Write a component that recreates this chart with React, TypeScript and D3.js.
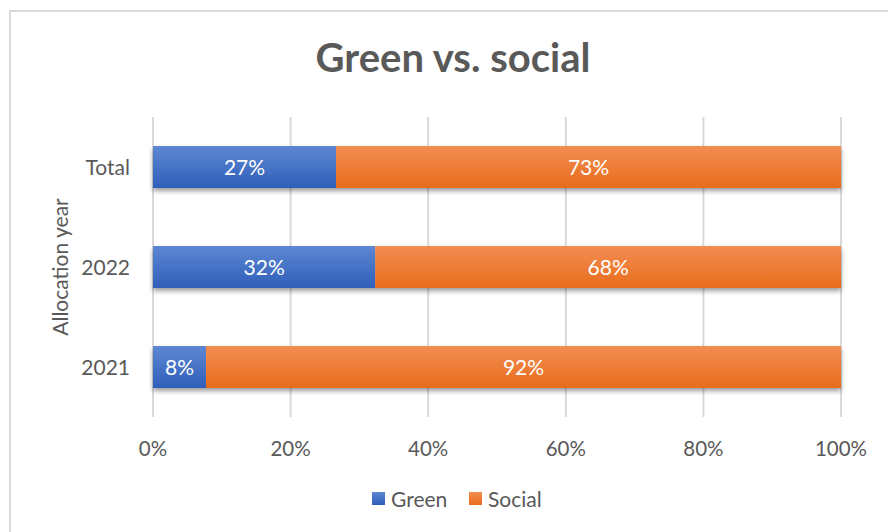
import React from "react";
import * as d3 from "d3";

const categories = ["Total", "2022", "2021"];
const greenValues = [26.6, 32.3, 7.7];
const socialValues = [73.4, 67.7, 92.3];
const xTicks = [0, 20, 40, 60, 80, 100];
const seriesNames = ["Green", "Social"];

const W = 888, H = 532;
const margin = { left: 153, right: 47, top: 117, bottom: 115 };
const FONT = "Lato, 'Open Sans', sans-serif";

export default function App() {
  const x = d3.scaleLinear().domain([0, 100]).range([margin.left, W - margin.right]);
  const y = d3.scaleBand().domain(categories).range([margin.top, H - margin.bottom]).paddingInner(0.58).paddingOuter(0.29);
  const bw = y.bandwidth();
  return (
    <svg width={W} height={H} style={{ position: "absolute", left: 0, top: 0 }}>
      <defs>
        <linearGradient id="gBlue" x1="0" y1="0" x2="0" y2="1">
          <stop offset="0" stopColor="#5d87d2" />
          <stop offset="1" stopColor="#2f5fba" />
        </linearGradient>
        <linearGradient id="gOrange" x1="0" y1="0" x2="0" y2="1">
          <stop offset="0" stopColor="#f38d52" />
          <stop offset="1" stopColor="#e86c1c" />
        </linearGradient>
        <filter id="shadow" x="-5%" y="-20%" width="110%" height="160%">
          <feGaussianBlur in="SourceAlpha" stdDeviation="2.5" />
          <feOffset dx="0" dy="3" result="b" />
          <feComponentTransfer><feFuncA type="linear" slope="0.4" /></feComponentTransfer>
          <feMerge><feMergeNode /><feMergeNode in="SourceGraphic" /></feMerge>
        </filter>
      </defs>
      <rect x={0} y={0} width={W} height={H} fill="#fff" />
      <rect x={10} y={11} width={W + 10} height={H + 10} fill="none" stroke="#d9d9d9" strokeWidth={2} />
      <text x={453} y={72} textAnchor="middle" fontFamily={FONT} fontWeight="bold" fontSize={40} fill="#595959">Green vs. social</text>
      {xTicks.map(t => (
        <line key={t} x1={x(t)} x2={x(t)} y1={margin.top} y2={H - margin.bottom} stroke="#d9d9d9" strokeWidth={2} />
      ))}
      {xTicks.map(t => (
        <text key={"l" + t} x={x(t)} y={456} textAnchor="middle" fontFamily={FONT} fontSize={20.5} fill="#595959">{t}%</text>
      ))}
      {categories.map((c, i) => {
        const y0 = y(c)!;
        const g = greenValues[i], s = socialValues[i];
        return (
          <g key={c}>
            <g filter="url(#shadow)">
              <rect x={x(0)} y={y0} width={x(g) - x(0)} height={bw} fill="url(#gBlue)" />
              <rect x={x(g)} y={y0} width={x(g + s) - x(g)} height={bw} fill="url(#gOrange)" />
            </g>
            <text x={(x(0) + x(g)) / 2} y={y0 + bw / 2 + 7.5} textAnchor="middle" fontFamily={FONT} fontSize={21} fill="#fff">{Math.round(g)}%</text>
            <text x={(x(g) + x(g + s)) / 2} y={y0 + bw / 2 + 7.5} textAnchor="middle" fontFamily={FONT} fontSize={21} fill="#fff">{Math.round(s)}%</text>
            <text x={130} y={y0 + bw / 2 + 7.5} textAnchor="end" fontFamily={FONT} fontSize={21} fill="#595959">{c}</text>
          </g>
        );
      })}
      <text transform={`translate(68, ${(margin.top + H - margin.bottom) / 2}) rotate(-90)`} textAnchor="middle" fontFamily={FONT} fontSize={21} fill="#595959">Allocation year</text>
      <g>
        <rect x={372} y={492} width={13} height={13} fill="url(#gBlue)" />
        <text x={391} y={507} fontFamily={FONT} fontSize={21} fill="#595959">{seriesNames[0]}</text>
        <rect x={469} y={492} width={13} height={13} fill="url(#gOrange)" />
        <text x={488} y={507} fontFamily={FONT} fontSize={21} fill="#595959">{seriesNames[1]}</text>
      </g>
    </svg>
  );
}
